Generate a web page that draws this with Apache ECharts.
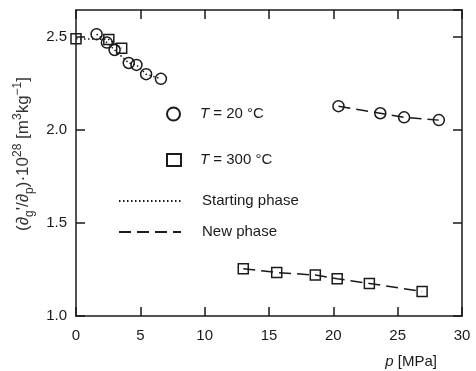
<!DOCTYPE html>
<html>
<head>
<meta charset="utf-8">
<script src="https://cdn.jsdelivr.net/npm/echarts@6/dist/echarts.min.js"></script>
<style>
html, body { margin: 0; background: #fff; }
#container { width: 476px; height: 371px; }
</style>
</head>
<body>
<div id="container"></div>
<script>
// T = 20 °C (circles)
const circStartP = [1.6, 2.4, 3.0, 4.1, 4.7, 5.45, 6.6]
const circStartV = [2.515, 2.47, 2.43, 2.36, 2.35, 2.3, 2.275]
const circNewP = [20.4, 23.65, 25.5, 28.2]
const circNewV = [2.128, 2.09, 2.068, 2.053]
// T = 300 °C (squares)
const sqStartP = [0, 2.55, 3.55]
const sqStartV = [2.49, 2.487, 2.44]
const sqNewP = [13.0, 15.6, 18.6, 20.3, 22.8, 26.9]
const sqNewV = [1.254, 1.234, 1.22, 1.2, 1.175, 1.132]

const pairs = (xs, ys) => xs.map((x, i) => [x, ys[i]])

const ink = '#1a1a1a'
const font = 'Liberation Sans'
const hollow = 'rgba(0,0,0,0)'
const dotted = [1.5, 2.5]
const dashed = [12, 6]

const myChart = echarts.init(document.getElementById('container'))

const frameAxis = {
    type: 'value',
    axisLine: { show: true, onZero: false, lineStyle: { color: ink, width: 1.5 } },
    axisTick: { inside: true, length: 9, lineStyle: { color: ink, width: 1.5 } },
    splitLine: { show: false }
}

const legendBase = {
    orient: 'vertical',
    padding: 0,
    selectedMode: false,
    textStyle: { fontFamily: font, fontSize: 15, color: ink }
}

const lineSeries = (name, type, data) => ({
    name,
    type: 'line',
    symbol: 'none',
    silent: true,
    z: 1,
    itemStyle: { color: hollow, borderWidth: 0 },
    lineStyle: { color: ink, width: 1.5, type },
    data
})

const option = {
    backgroundColor: '#fff',
    animation: false,
    grid: { left: 76, right: 14, top: 10, bottom: 55, containLabel: false },
    xAxis: [
        {
            ...frameAxis,
            position: 'bottom',
            min: 0,
            max: 30,
            interval: 5,
            axisLabel: { fontFamily: font, fontSize: 15, color: ink, margin: 12 },
            name: '{i|p} [MPa]',
            nameLocation: 'end',
            nameGap: -25,
            nameTextStyle: {
                fontFamily: font, fontSize: 15, color: ink,
                align: 'right', verticalAlign: 'top', padding: [38, 0, 0, 0],
                rich: { i: { fontFamily: font, fontSize: 15, fontStyle: 'italic', color: ink } }
            }
        },
        {
            ...frameAxis,
            position: 'top',
            min: 0,
            max: 30,
            interval: 5,
            axisLabel: { show: false }
        }
    ],
    yAxis: [
        {
            ...frameAxis,
            position: 'left',
            min: 1,
            max: 2.645,
            interval: 0.5,
            axisLabel: {
                fontFamily: font, fontSize: 15, color: ink, margin: 9,
                showMaxLabel: false,
                formatter: v => v.toFixed(1)
            },
            name: '(∂{sub|g}\'/∂{sub|p})·10{sup|28} [m{sup|3}kg{sup|−1}]',
            nameLocation: 'middle',
            nameGap: 34,
            nameTextStyle: {
                fontFamily: font, fontSize: 17, color: '#333', lineHeight: 24,
                padding: [0, 0, 0, 18],
                rich: {
                    sub: { fontFamily: font, fontSize: 12, color: '#333', verticalAlign: 'bottom', lineHeight: 13 },
                    sup: { fontFamily: font, fontSize: 12, color: '#333', verticalAlign: 'top', lineHeight: 13 }
                }
            }
        },
        {
            ...frameAxis,
            position: 'right',
            min: 1,
            max: 2.645,
            interval: 0.5,
            axisLabel: { show: false }
        }
    ],
    legend: [
        {
            ...legendBase,
            left: 166, top: 106.5, itemWidth: 13, itemHeight: 13,
            data: [{ name: 'T = 20 °C', icon: 'circle', itemStyle: { color: hollow, borderColor: ink, borderWidth: 2 } }],
            formatter: () => '{i|T} = 20 °C',
            textStyle: { ...legendBase.textStyle, padding: [0, 0, 0, 15], rich: { i: { fontFamily: font, fontSize: 15, fontStyle: 'italic', color: ink } } }
        },
        {
            ...legendBase,
            left: 166, top: 152.5, itemWidth: 14, itemHeight: 12,
            data: [{ name: 'T = 300 °C', icon: 'rect', itemStyle: { color: hollow, borderColor: ink, borderWidth: 2 } }],
            formatter: () => '{i|T} = 300 °C',
            textStyle: { ...legendBase.textStyle, padding: [0, 0, 0, 14], rich: { i: { fontFamily: font, fontSize: 15, fontStyle: 'italic', color: ink } } }
        },
        {
            ...legendBase,
            left: 118, top: 193.5, itemWidth: 62, itemHeight: 14,
            data: [{ name: 'Starting phase', itemStyle: { color: hollow, borderWidth: 0 } }],
            textStyle: { ...legendBase.textStyle, padding: [0, 0, 0, 16] }
        },
        {
            ...legendBase,
            left: 118, top: 224.5, itemWidth: 62, itemHeight: 14,
            data: [{ name: 'New phase', itemStyle: { color: hollow, borderWidth: 0 } }],
            textStyle: { ...legendBase.textStyle, padding: [0, 0, 0, 16] }
        }
    ],
    series: [
        lineSeries('Starting phase', dotted, pairs(circStartP, circStartV)),
        lineSeries('Starting phase', dotted, pairs(sqStartP, sqStartV)),
        lineSeries('New phase', dashed, pairs(circNewP, circNewV)),
        lineSeries('New phase', dashed, pairs(sqNewP, sqNewV)),
        {
            name: 'T = 20 °C', type: 'scatter', symbol: 'circle', symbolSize: 11, z: 3,
            itemStyle: { color: hollow, borderColor: ink, borderWidth: 1.5, opacity: 1 },
            data: pairs(circStartP, circStartV).concat(pairs(circNewP, circNewV))
        },
        {
            name: 'T = 300 °C', type: 'scatter', symbol: 'rect', symbolSize: 10, z: 3,
            itemStyle: { color: hollow, borderColor: ink, borderWidth: 1.5, opacity: 1 },
            data: pairs(sqStartP, sqStartV).concat(pairs(sqNewP, sqNewV))
        }
    ]
}

myChart.setOption(option)
</script>
</body>
</html>
